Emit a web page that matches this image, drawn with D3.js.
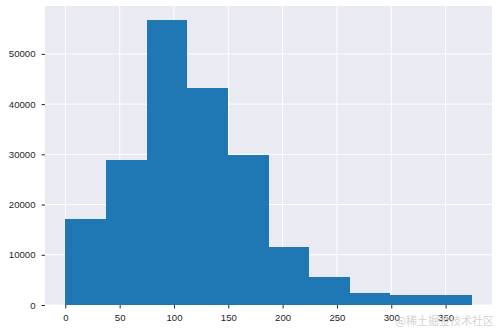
<!DOCTYPE html>
<html>
<head>
    <script src="https://cdnjs.cloudflare.com/ajax/libs/d3/7.8.5/d3.min.js"></script>
    <style>
        body, html {
            margin: 0;
            padding: 0;
            background: #fff;
            overflow: hidden;
        }
        svg { display: block; }
        .tick text {
            font-family: "Liberation Sans", Arial, sans-serif;
            font-size: 9.6px;
            fill: #262626;
        }
    </style>
</head>
<body>
    <svg></svg>
    <script>
        // histogram bins (10 equal bins from 0 to ~374)
        const binEdges = [0, 37.4, 74.8, 112.2, 149.6, 187, 224.4, 261.8, 299.2, 336.6, 374];
        const counts = [17200, 28900, 56700, 43300, 29900, 11500, 5500, 2400, 2050, 1950];
        const xTicks = [0, 50, 100, 150, 200, 250, 300, 350];
        const yTicks = [0, 10000, 20000, 30000, 40000, 50000];

        const width = 498, height = 332;
        const margin = {top: 6, right: 6, bottom: 27, left: 45};

        const svg = d3.select("svg")
            .attr("width", width)
            .attr("height", height);

        const xMin = binEdges[0], xMax = binEdges[binEdges.length - 1];
        const pad = (xMax - xMin) * 0.05;
        const x = d3.scaleLinear()
            .domain([xMin - pad, xMax + pad])
            .range([margin.left, width - margin.right]);

        const y = d3.scaleLinear()
            .domain([0, d3.max(counts) * 1.05])
            .range([height - margin.bottom, margin.top]);

        // background
        svg.append("rect")
            .attr("x", margin.left)
            .attr("y", margin.top)
            .attr("width", width - margin.left - margin.right)
            .attr("height", height - margin.top - margin.bottom)
            .attr("fill", "#eaeaf2");

        // grid
        const grid = svg.append("g");
        grid.selectAll(".gx")
            .data(xTicks)
            .join("line")
            .attr("x1", d => x(d)).attr("x2", d => x(d))
            .attr("y1", margin.top).attr("y2", height - margin.bottom)
            .attr("stroke", "#fff").attr("stroke-width", 1);
        grid.selectAll(".gy")
            .data(yTicks)
            .join("line")
            .attr("x1", margin.left).attr("x2", width - margin.right)
            .attr("y1", d => y(d)).attr("y2", d => y(d))
            .attr("stroke", "#fff").attr("stroke-width", 1);

        // bars
        const bins = counts.map((c, i) => ({x0: binEdges[i], x1: binEdges[i + 1], c}));
        svg.append("g")
            .selectAll("rect")
            .data(bins)
            .join("rect")
            .attr("x", d => x(d.x0))
            .attr("width", d => x(d.x1) - x(d.x0))
            .attr("y", d => y(d.c))
            .attr("height", d => y(0) - y(d.c))
            .attr("fill", "#1f77b4")
            .attr("shape-rendering", "crispEdges");

        // axes
        const xAxis = svg.append("g")
            .attr("transform", `translate(0,${height - margin.bottom})`)
            .call(d3.axisBottom(x).tickValues(xTicks).tickSize(3.5).tickPadding(6));
        const yAxis = svg.append("g")
            .attr("transform", `translate(${margin.left},0)`)
            .call(d3.axisLeft(y).tickValues(yTicks).tickSize(3.5).tickPadding(6).tickFormat(d3.format("d")));

        [xAxis, yAxis].forEach(a => {
            a.select(".domain").remove();
            a.selectAll(".tick line").attr("stroke", "#262626");
        });

        // watermark
        svg.append("text")
            .attr("x", width - 4)
            .attr("y", height - 7)
            .attr("text-anchor", "end")
            .attr("font-family", "Noto Sans CJK SC, sans-serif")
            .attr("font-size", 11)
            .attr("fill", "#d0d0d0")
            .attr("opacity", 0.9)
            .text("@稀土掘金技术社区");
    </script>
</body>
</html>
